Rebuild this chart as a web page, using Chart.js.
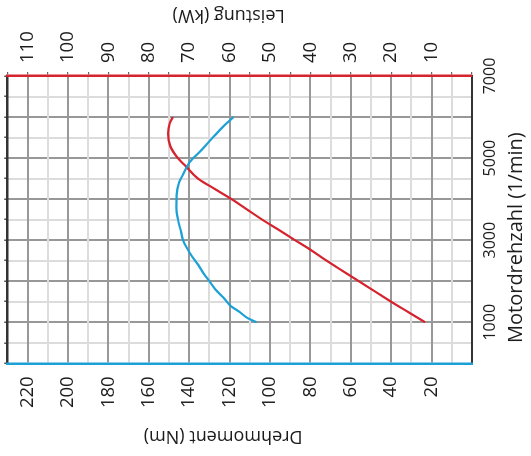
<!DOCTYPE html>
<html>
<head>
<meta charset="utf-8">
<script src="https://cdn.jsdelivr.net/npm/chart.js@4/dist/chart.umd.min.js"></script>
<style>
  html, body { margin: 0; padding: 0; background: #fff; overflow: hidden; }
  /* the diagram is laid out upright and then turned a quarter turn */
  #frame {
    position: absolute; left: 0; top: 0;
    width: 456px; height: 531px;
    transform-origin: 0 0;
    transform: translateY(456px) rotate(-90deg);
  }
</style>
</head>
<body>
<div id="frame"><canvas id="c" width="456" height="531"></canvas></div>
<script>
// Drehmomentkurve (Nm über 1/min)
const torqueRpm = [1000, 1100, 1250, 1400, 1600, 1800, 2000, 2200, 2400, 2600, 2800, 3000,
                   3200, 3500, 3800, 4100, 4400, 4600, 4900, 5200, 5500, 5800, 6000];
const torqueNm  = [106.6, 111, 115, 119.5, 123, 127, 130, 133, 135.5, 138.5, 141, 143,
                   144, 145.5, 146.3, 146.2, 145, 143, 139.7, 133.8, 128.3, 122.5, 118];

// Leistungskurve (kW über 1/min)
const powerRpm = [1000, 1250, 1500, 1750, 2000, 2250, 2500, 2800, 3000, 3250, 3500, 3750,
                  4000, 4250, 4500, 4800, 5000, 5300, 5600, 5850, 6000];
const powerKw  = [11.6, 15.8, 20, 24, 28, 32, 36, 40.5, 43.8, 47.8, 51.9, 55.7,
                  59.5, 63.7, 67.8, 70.8, 72.8, 74.7, 75.2, 74.8, 74];

// beschriftete Skalenwerte
const rpmLabels    = [1000, 3000, 5000, 7000];
const torqueLabels = [20, 40, 60, 80, 100, 120, 140, 160, 180, 200, 220];
const powerLabels  = [10, 20, 30, 40, 50, 60, 70, 80, 90, 100, 110];

const RED = 'rgb(214, 36, 46)';
const BLUE = 'rgb(28, 160, 214)';
const GRID_DARK = 'rgb(152, 152, 152)';
const GRID_LIGHT = 'rgb(220, 220, 220)';
const INK = '#1c1c1c';
const FONT = '"Open Sans", "DejaVu Sans", sans-serif';

function fixedBox(size, horizontal) {
  return function (scale) {
    if (horizontal) scale.height = size; else scale.width = size;
    scale.paddingTop = 0; scale.paddingBottom = 0;
    scale.paddingLeft = 0; scale.paddingRight = 0;
  };
}

// Achsentitel werden selbst gesetzt, damit Lage und Drehung stimmen
const axisTitles = {
  id: 'axisTitles',
  afterDraw(chart) {
    const ctx = chart.ctx;
    const a = chart.chartArea;
    ctx.save();
    ctx.fillStyle = INK;
    ctx.textAlign = 'center';
    ctx.textBaseline = 'middle';

    ctx.font = '18px ' + FONT;
    ctx.save();
    ctx.translate(19.5, (a.top + a.bottom) / 2 - 16.5);
    ctx.rotate(-Math.PI / 2);
    ctx.fillText('Drehmoment (Nm)', 0, 0);
    ctx.restore();

    ctx.save();
    ctx.translate(441, (a.top + a.bottom) / 2 - 11);
    ctx.rotate(-Math.PI / 2);
    ctx.fillText('Leistung (kW)', 0, 0);
    ctx.restore();

    ctx.font = '20px ' + FONT;
    ctx.fillText('Motordrehzahl (1/min)', (a.left + a.right) / 2 - 18, 516);
    ctx.restore();
  }
};

new Chart(document.getElementById('c'), {
  type: 'line',
  data: {
    datasets: [
      {
        label: 'Drehmoment',
        data: torqueRpm.map((r, i) => ({ x: r, y: torqueNm[i] })),
        yAxisID: 'yT',
        borderColor: BLUE,
        borderWidth: 2.2,
        pointRadius: 0,
        cubicInterpolationMode: 'monotone'
      },
      {
        label: 'Leistung',
        data: powerRpm.map((r, i) => ({ x: r, y: powerKw[i] })),
        yAxisID: 'yP',
        borderColor: RED,
        borderWidth: 2.2,
        pointRadius: 0,
        cubicInterpolationMode: 'monotone'
      }
    ]
  },
  options: {
    responsive: false,
    devicePixelRatio: 1,
    animation: false,
    events: [],
    layout: { padding: 0 },
    plugins: { legend: { display: false }, tooltip: { enabled: false } },
    scales: {
      x: {
        type: 'linear', position: 'bottom', min: 0, max: 7000,
        afterFit: fixedBox(59, true),
        ticks: {
          stepSize: 500, autoSkip: false, maxRotation: 0, minRotation: 0,
          padding: 9, color: INK, font: { family: FONT, size: 16 },
          callback: v => rpmLabels.includes(v) ? String(v) : ''
        },
        grid: {
          drawTicks: false, lineWidth: 2,
          color: c => (c.tick.value === 0 || c.tick.value === 7000) ? 'rgba(0,0,0,0)'
                    : (c.tick.value % 1000 === 0 ? GRID_DARK : GRID_LIGHT)
        },
        border: { color: '#333', width: 2 }
      },
      x2: {
        type: 'linear', position: 'top', min: 0, max: 7000,
        afterFit: fixedBox(7.3, true),
        ticks: { display: false, stepSize: 500 },
        grid: { drawOnChartArea: false, drawTicks: true, tickLength: 3, color: '#555', lineWidth: 1.5 },
        border: { color: '#333', width: 2.5 }
      },
      yT: {
        type: 'linear', position: 'left', min: 0, max: 230,
        afterFit: fixedBox(92.7, false),
        ticks: {
          stepSize: 10, autoSkip: false, padding: 13, color: INK,
          font: { family: FONT, size: 18.5 },
          callback: v => torqueLabels.includes(v) ? String(v) : ''
        },
        grid: {
          drawTicks: false, lineWidth: 2,
          color: c => (c.tick.value === 0 || c.tick.value === 230) ? 'rgba(0,0,0,0)'
                    : (c.tick.value % 20 === 0 ? GRID_DARK : GRID_LIGHT)
        },
        border: { color: BLUE, width: 2.5 }
      },
      yP: {
        type: 'linear', position: 'right', min: 0, max: 115,
        afterFit: fixedBox(76, false),
        ticks: {
          stepSize: 5, autoSkip: false, padding: 9, color: INK,
          font: { family: FONT, size: 18.5 },
          callback: v => powerLabels.includes(v) ? String(v) : ''
        },
        grid: { drawOnChartArea: false, drawTicks: true, tickLength: 4, color: '#666', lineWidth: 1.2 },
        border: { color: RED, width: 2.5 }
      }
    }
  },
  plugins: [axisTitles]
});
</script>
</body>
</html>
